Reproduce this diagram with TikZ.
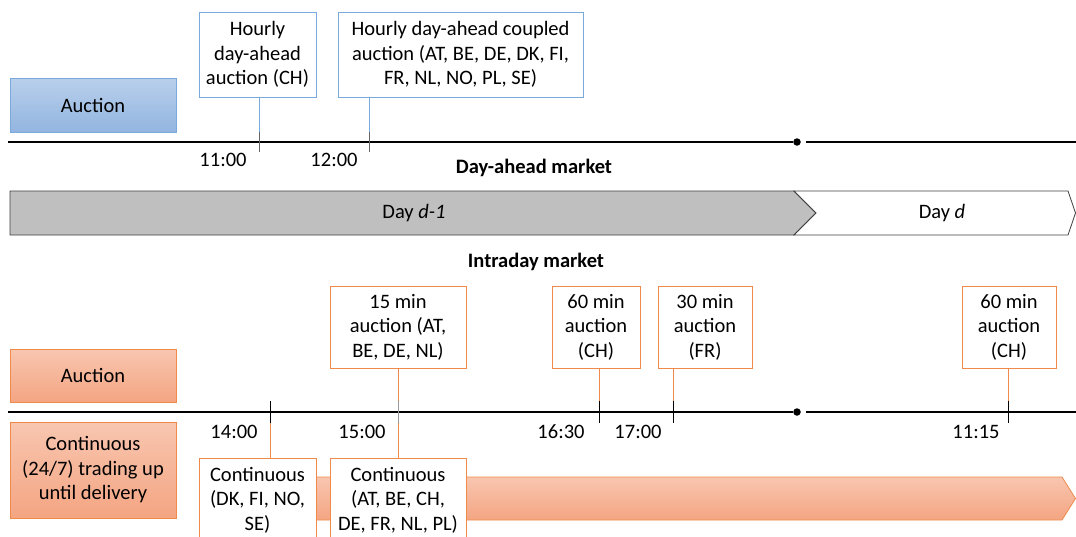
\documentclass[tikz,border=0pt]{standalone}
\usepackage{fontspec}
\setmainfont{Carlito}
\begin{document}
\begin{tikzpicture}[x=1pt,y=-1pt,
  every node/.style={font=\fontsize{20.5}{24.5}\selectfont},
  lbl/.style={inner sep=0pt, align=center},
  orangecat/.style={draw=orangeLine, line width=0.8pt, top color=orTop, bottom color=orBot, inner sep=0pt, align=center},
  bluecat/.style={draw=blueLine, line width=0.8pt, top color=blueTop, bottom color=blueBot, inner sep=0pt, align=center},
  bluebox/.style={draw=blueLine, line width=0.8pt, fill=white, inner sep=0pt, align=center},
  orangebox/.style={draw=orangeLine, line width=0.8pt, fill=white, inner sep=0pt, align=center},
  blueconn/.style={draw=blueLine, line width=0.8pt},
  orangeconn/.style={draw=orangeLine, line width=0.8pt},
  tick/.style={draw=black, line width=0.8pt},
  tline/.style={draw=black, line width=1.4pt},
  dotm/.style={circle, fill=black, inner sep=0pt, minimum size=7.5pt}
]
\definecolor{blueTop}{HTML}{B9D0EB}
\definecolor{blueBot}{HTML}{92B5E0}
\definecolor{blueLine}{HTML}{7AAADB}
\definecolor{orTop}{HTML}{F8C6B0}
\definecolor{orBot}{HTML}{F4A582}
\definecolor{orangeLine}{HTML}{F08A4B}
\definecolor{grayFill}{HTML}{BFBFBF}
\useasboundingbox (0,0) rectangle (1076,536);
\clip (0,0) rectangle (1076,536);

% ---------- Day-ahead part ----------
\node[bluecat, minimum width=166pt, minimum height=54pt] (aucA) at (93,105) {Auction};
\node[bluebox, minimum width=117pt, minimum height=85pt] (bCH) at (257.5,54.5) {Hourly\\day-ahead\\auction (CH)};
\node[bluebox, minimum width=245pt, minimum height=85pt] (bCPL) at (460.5,54.5) {Hourly day-ahead coupled\\auction (AT, BE, DE, DK, FI,\\FR, NL, NO, PL, SE)};

\coordinate (l1s) at (8,142);
\node[dotm] (dot1) at (797,142) {};
\coordinate (l1b) at (806,142);
\coordinate (l1e) at (1076,142);
\draw[tline] (l1s) -- (dot1);
\draw[tline] (l1b) -- (l1e);

\coordinate (t11a) at (259,132); \coordinate (t11b) at (259,152);
\coordinate (t12a) at (369,132); \coordinate (t12b) at (369,152);
\draw[blueconn] (bCH.south -| t11a) -- (t11a);
\draw[blueconn] (bCPL.south -| t12a) -- (t12a);
\draw[tick, draw=black!60] (t11a) -- (t11b);
\draw[tick, draw=black!60] (t12a) -- (t12b);

\node[lbl] (h11) at (223,160) {11:00};
\node[lbl] (h12) at (334,160) {12:00};

\node[lbl, font=\fontsize{20.5}{24.5}\selectfont\bfseries] (dam) at (534,168) {Day-ahead market};

% chevrons
\draw[draw=black!75, line width=0.8pt, fill=grayFill] (10,191) -- (794,191) -- (816,213) -- (794,235) -- (10,235) -- cycle;
\draw[draw=black!75, line width=0.8pt, fill=white] (794,191) -- (1068,191) -- (1075.5,213) -- (1068,235) -- (794,235) -- (816,213) -- cycle;
\node[lbl] (dm1) at (414,213) {Day \textit{d-1}};
\node[lbl] (dd) at (942,213) {Day \textit{d}};

% ---------- Intraday part ----------
\node[lbl, font=\fontsize{20.5}{24.5}\selectfont\bfseries] (idm) at (536,262) {Intraday market};

% long orange bar
\draw[draw=orangeLine, line width=0.8pt, top color=orTop, bottom color=orBot] (200,477) -- (1062,477) -- (1075.5,498.5) -- (1062,520) -- (200,520) -- cycle;

\node[orangecat, minimum width=166pt, minimum height=53pt] (aucI) at (93,375.5) {Auction};
\node[orangecat, minimum width=166pt, minimum height=96pt] (cont) at (93,470) {Continuous\\(24/7) trading up\\until delivery};

\node[orangebox, minimum width=136pt, minimum height=82pt] (b15) at (398,327) {15 min\\auction (AT,\\BE, DE, NL)};
\node[orangebox, minimum width=88pt, minimum height=82pt] (b60a) at (596,327) {60 min\\auction\\(CH)};
\node[orangebox, minimum width=94pt, minimum height=82pt] (b30) at (705,327) {30 min\\auction\\(FR)};
\node[orangebox, minimum width=94pt, minimum height=82pt] (b60b) at (1009,327) {60 min\\auction\\(CH)};

\node[orangebox, minimum width=117pt, minimum height=84pt] (cDK) at (257.5,500) {Continuous\\(DK, FI, NO,\\SE)};
\node[orangebox, minimum width=136pt, minimum height=84pt] (cAT) at (398,500) {Continuous\\(AT, BE, CH,\\DE, FR, NL, PL)};

\coordinate (l2s) at (8,412);
\node[dotm] (dot2) at (797,412) {};
\coordinate (l2b) at (806,412);
\coordinate (l2e) at (1076,412);

% connectors
\coordinate (t14) at (270,412);
\coordinate (t15) at (398,412);
\coordinate (t1630) at (599,422);
\coordinate (t17) at (673,422);
\coordinate (t1115) at (1008,422);
\draw[orangeconn] (t14) -- (t14 |- cDK.north);
\draw[orangeconn] (b15.south) -- (b15.south |- cAT.north);
\draw[orangeconn] (b60a.south -| t1630) -- (t1630);
\draw[orangeconn] (b30.south -| t17) -- (t17);
\draw[orangeconn] (b60b.south -| t1115) -- (t1115);

\draw[tline] (l2s) -- (dot2);
\draw[tline] (l2b) -- (l2e);

\foreach \xx in {270,599,673,1008} \draw[tick] (\xx,401) -- (\xx,423);
\draw[tick, draw=black!40] (398,401) -- (398,423);

\node[lbl] (h14) at (234,432) {14:00};
\node[lbl] (h15) at (362,432) {15:00};
\node[lbl] (h1630) at (561,432) {16:30};
\node[lbl] (h17) at (638,432) {17:00};
\node[lbl] (h1115) at (976,432) {11:15};
\end{tikzpicture}
\end{document}
